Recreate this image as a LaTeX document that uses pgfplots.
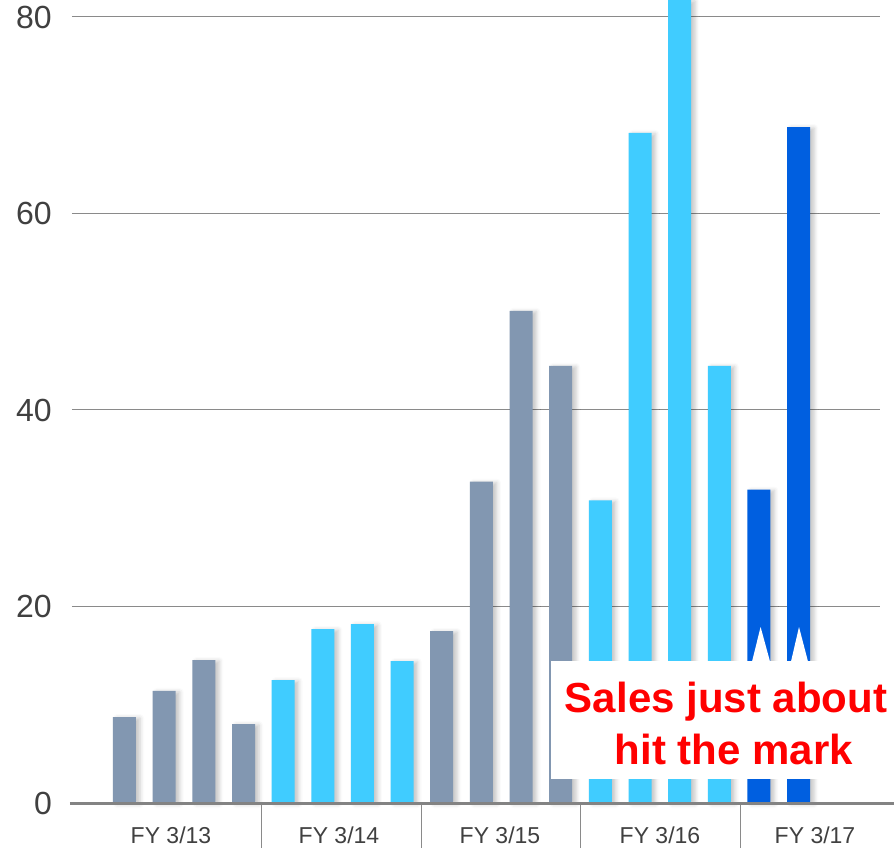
\documentclass[border=0pt]{standalone}
\usepackage{pgfplots}
\pgfplotsset{compat=1.18}
\usepackage{fontspec}
\setmainfont{Liberation Sans}
\usetikzlibrary{shadows.blur}
\definecolor{bargray}{HTML}{8297B1}
\definecolor{barlight}{HTML}{40CCFF}
\definecolor{bardark}{HTML}{005FE0}
\definecolor{txtgray}{HTML}{404040}
\definecolor{gridgray}{HTML}{8A8A8A}
\tikzset{catlabel/.style={text=txtgray, font=\fontsize{23}{26}\selectfont, inner sep=0pt},
  calltext/.style={text=red, font=\bfseries\fontsize{42}{53}\selectfont, inner sep=0pt, anchor=base}}
\begin{document}
\begin{tikzpicture}
\begin{axis}[
  scale only axis,
  width=808pt, height=803pt,
  xmin=72, xmax=880,
  ymin=0, ymax=81.73,
  clip=false,
  axis line style={draw=none},
  xtick=\empty,
  ytick={0,20,40,60,80},
  major tick length=0pt,
  ymajorgrids,
  grid style={gridgray, line width=1pt},
  yticklabel style={font=\fontsize{32}{36}\selectfont, text=txtgray, inner sep=0pt, anchor=east, xshift=-20pt},
  /pgf/number format/assume math mode=true,
  mybar/.style={ybar, bar width=23pt, draw=none, fill=#1,
    blur shadow={shadow xshift=4pt, shadow yshift=-1pt, shadow blur radius=4pt, shadow opacity=22}},
]
\addplot[mybar=bargray] coordinates {(124.5,8.75) (164.2,11.4) (203.8,14.55) (243.5,8.04)};
\addplot[mybar=barlight] coordinates {(283.1,12.5) (322.8,17.7) (362.4,18.2) (402.1,14.45)};
\addplot[mybar=bargray] coordinates {(441.7,17.5) (481.4,32.7) (521.0,50.1) (560.7,44.5)};
\addplot[mybar=barlight] coordinates {(600.3,30.8) (640.0,68.2) (679.6,81.73) (719.3,44.5)};
\addplot[mybar=bardark] coordinates {(758.9,31.9) (798.6,68.8)};
% callout box
\fill[white] (axis cs:551,2.44) rectangle (axis cs:894,14.45);
\fill[white] (axis cs:752,14.4) -- (axis cs:760.6,17.91) -- (axis cs:770,14.4) -- cycle;
\fill[white] (axis cs:791,14.4) -- (axis cs:799,17.91) -- (axis cs:808,14.4) -- cycle;
\node[calltext] at (axis cs:726,9.26) {Sales just about};
\node[calltext] at (axis cs:734,3.87) {hit the mark};
% baseline
\draw[gridgray!95!black, line width=3pt] (axis cs:70,0) -- (axis cs:894,0);
% separators
\draw[gridgray, line width=1pt] (axis cs:261,-0.2) -- (axis cs:261,-4.6);
\draw[gridgray, line width=1pt] (axis cs:421,-0.2) -- (axis cs:421,-4.6);
\draw[gridgray, line width=1pt] (axis cs:580,-0.2) -- (axis cs:580,-4.6);
\draw[gridgray, line width=1pt] (axis cs:740,-0.2) -- (axis cs:740,-4.6);
% category labels
\node[catlabel] at (axis cs:171,-3.3) {FY 3/13};
\node[catlabel] at (axis cs:339,-3.3) {FY 3/14};
\node[catlabel] at (axis cs:500,-3.3) {FY 3/15};
\node[catlabel] at (axis cs:660,-3.3) {FY 3/16};
\node[catlabel] at (axis cs:815,-3.3) {FY 3/17};
\coordinate (BL) at (axis cs:0,-4.58);
\coordinate (TR) at (axis cs:894,81.73);
\end{axis}
\pgfresetboundingbox
\useasboundingbox (BL) rectangle (TR);
\end{tikzpicture}
\end{document}
